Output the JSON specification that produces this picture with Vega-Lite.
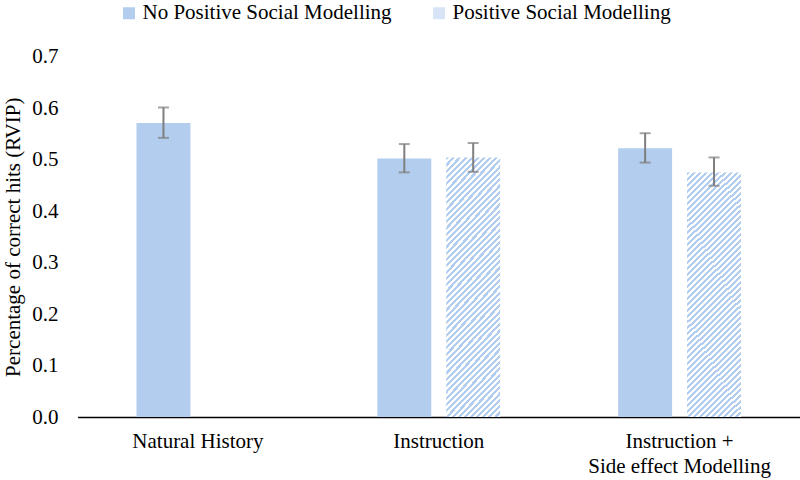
{
  "$schema": "https://vega.github.io/schema/vega-lite/v6.json",
  "width": 722.5,
  "height": 360.5,
  "autosize": {"type": "none"},
  "padding": {"left": 77.5, "top": 56.5, "right": 0, "bottom": 63},
  "config": {
    "font": "Liberation Serif",
    "view": {"stroke": null},
    "axis": {"labelColor": "#000", "titleColor": "#000", "labelFontSize": 21, "titleFontSize": 21, "titleFontWeight": "normal", "grid": false, "ticks": false, "tickSize": 0, "labelLimit": 400}
  },
  "data": {
    "values": [
      {"condition": "Natural History", "modelling": "No Positive Social Modelling", "mean": 0.571, "lo": 0.542, "hi": 0.601},
      {"condition": "Instruction", "modelling": "No Positive Social Modelling", "mean": 0.502, "lo": 0.475, "hi": 0.530},
      {"condition": "Instruction", "modelling": "Positive Social Modelling", "mean": 0.504, "lo": 0.476, "hi": 0.532},
      {"condition": "Instruction + Side effect Modelling", "modelling": "No Positive Social Modelling", "mean": 0.522, "lo": 0.494, "hi": 0.551},
      {"condition": "Instruction + Side effect Modelling", "modelling": "Positive Social Modelling", "mean": 0.475, "lo": 0.449, "hi": 0.504}
    ]
  },
  "encoding": {
    "x": {
      "field": "condition",
      "type": "nominal",
      "sort": ["Natural History", "Instruction", "Instruction + Side effect Modelling"],
      "scale": {"paddingInner": 0.49, "paddingOuter": 0.245},
      "axis": {
        "title": null,
        "labelAngle": 0,
        "domain": true,
        "domainColor": "#000",
        "domainWidth": 1.5,
        "labelPadding": 13,
        "labelLineHeight": 25,
        "labelLimit": 400,
        "labelExpr": "datum.value == 'Instruction + Side effect Modelling' ? ['Instruction +', 'Side effect Modelling'] : datum.label"
      }
    },
    "xOffset": {
      "field": "modelling",
      "type": "nominal",
      "scale": {"domain": ["No Positive Social Modelling", "Positive Social Modelling"], "paddingInner": 0.217, "paddingOuter": 0}
    },
    "y": {
      "field": "mean",
      "type": "quantitative",
      "title": "Percentage of correct hits (RVIP)",
      "scale": {"domain": [0, 0.7], "nice": false},
      "axis": {"values": [0, 0.1, 0.2, 0.3, 0.4, 0.5, 0.6, 0.7], "format": ".1f", "domain": false, "labelPadding": 19.5, "titlePadding": 8}
    }
  },
  "layer": [
    {
      "transform": [{"filter": "datum.modelling === 'No Positive Social Modelling'"}],
      "mark": {"type": "bar", "fill": "#b3cdee"}
    },
    {
      "transform": [{"filter": "datum.modelling === 'Positive Social Modelling'"}],
      "mark": {
        "type": "bar",
        "fill": {
          "gradient": "linear", "x1": 0, "y1": 0, "x2": 0.249, "y2": 1.161,
          "stops": [
            {"offset":0,"color":"#b3cdee"},{"offset":0.01,"color":"#b3cdee"},{"offset":0.01,"color":"#fff"},{"offset":0.02,"color":"#fff"},
            {"offset":0.02,"color":"#b3cdee"},{"offset":0.03,"color":"#b3cdee"},{"offset":0.03,"color":"#fff"},{"offset":0.04,"color":"#fff"},
            {"offset":0.04,"color":"#b3cdee"},{"offset":0.05,"color":"#b3cdee"},{"offset":0.05,"color":"#fff"},{"offset":0.06,"color":"#fff"},
            {"offset":0.06,"color":"#b3cdee"},{"offset":0.07,"color":"#b3cdee"},{"offset":0.07,"color":"#fff"},{"offset":0.08,"color":"#fff"},
            {"offset":0.08,"color":"#b3cdee"},{"offset":0.09,"color":"#b3cdee"},{"offset":0.09,"color":"#fff"},{"offset":0.10,"color":"#fff"},
            {"offset":0.10,"color":"#b3cdee"},{"offset":0.11,"color":"#b3cdee"},{"offset":0.11,"color":"#fff"},{"offset":0.12,"color":"#fff"},
            {"offset":0.12,"color":"#b3cdee"},{"offset":0.13,"color":"#b3cdee"},{"offset":0.13,"color":"#fff"},{"offset":0.14,"color":"#fff"},
            {"offset":0.14,"color":"#b3cdee"},{"offset":0.15,"color":"#b3cdee"},{"offset":0.15,"color":"#fff"},{"offset":0.16,"color":"#fff"},
            {"offset":0.16,"color":"#b3cdee"},{"offset":0.17,"color":"#b3cdee"},{"offset":0.17,"color":"#fff"},{"offset":0.18,"color":"#fff"},
            {"offset":0.18,"color":"#b3cdee"},{"offset":0.19,"color":"#b3cdee"},{"offset":0.19,"color":"#fff"},{"offset":0.20,"color":"#fff"},
            {"offset":0.20,"color":"#b3cdee"},{"offset":0.21,"color":"#b3cdee"},{"offset":0.21,"color":"#fff"},{"offset":0.22,"color":"#fff"},
            {"offset":0.22,"color":"#b3cdee"},{"offset":0.23,"color":"#b3cdee"},{"offset":0.23,"color":"#fff"},{"offset":0.24,"color":"#fff"},
            {"offset":0.24,"color":"#b3cdee"},{"offset":0.25,"color":"#b3cdee"},{"offset":0.25,"color":"#fff"},{"offset":0.26,"color":"#fff"},
            {"offset":0.26,"color":"#b3cdee"},{"offset":0.27,"color":"#b3cdee"},{"offset":0.27,"color":"#fff"},{"offset":0.28,"color":"#fff"},
            {"offset":0.28,"color":"#b3cdee"},{"offset":0.29,"color":"#b3cdee"},{"offset":0.29,"color":"#fff"},{"offset":0.30,"color":"#fff"},
            {"offset":0.30,"color":"#b3cdee"},{"offset":0.31,"color":"#b3cdee"},{"offset":0.31,"color":"#fff"},{"offset":0.32,"color":"#fff"},
            {"offset":0.32,"color":"#b3cdee"},{"offset":0.33,"color":"#b3cdee"},{"offset":0.33,"color":"#fff"},{"offset":0.34,"color":"#fff"},
            {"offset":0.34,"color":"#b3cdee"},{"offset":0.35,"color":"#b3cdee"},{"offset":0.35,"color":"#fff"},{"offset":0.36,"color":"#fff"},
            {"offset":0.36,"color":"#b3cdee"},{"offset":0.37,"color":"#b3cdee"},{"offset":0.37,"color":"#fff"},{"offset":0.38,"color":"#fff"},
            {"offset":0.38,"color":"#b3cdee"},{"offset":0.39,"color":"#b3cdee"},{"offset":0.39,"color":"#fff"},{"offset":0.40,"color":"#fff"},
            {"offset":0.40,"color":"#b3cdee"},{"offset":0.41,"color":"#b3cdee"},{"offset":0.41,"color":"#fff"},{"offset":0.42,"color":"#fff"},
            {"offset":0.42,"color":"#b3cdee"},{"offset":0.43,"color":"#b3cdee"},{"offset":0.43,"color":"#fff"},{"offset":0.44,"color":"#fff"},
            {"offset":0.44,"color":"#b3cdee"},{"offset":0.45,"color":"#b3cdee"},{"offset":0.45,"color":"#fff"},{"offset":0.46,"color":"#fff"},
            {"offset":0.46,"color":"#b3cdee"},{"offset":0.47,"color":"#b3cdee"},{"offset":0.47,"color":"#fff"},{"offset":0.48,"color":"#fff"},
            {"offset":0.48,"color":"#b3cdee"},{"offset":0.49,"color":"#b3cdee"},{"offset":0.49,"color":"#fff"},{"offset":0.50,"color":"#fff"},
            {"offset":0.50,"color":"#b3cdee"},{"offset":0.51,"color":"#b3cdee"},{"offset":0.51,"color":"#fff"},{"offset":0.52,"color":"#fff"},
            {"offset":0.52,"color":"#b3cdee"},{"offset":0.53,"color":"#b3cdee"},{"offset":0.53,"color":"#fff"},{"offset":0.54,"color":"#fff"},
            {"offset":0.54,"color":"#b3cdee"},{"offset":0.55,"color":"#b3cdee"},{"offset":0.55,"color":"#fff"},{"offset":0.56,"color":"#fff"},
            {"offset":0.56,"color":"#b3cdee"},{"offset":0.57,"color":"#b3cdee"},{"offset":0.57,"color":"#fff"},{"offset":0.58,"color":"#fff"},
            {"offset":0.58,"color":"#b3cdee"},{"offset":0.59,"color":"#b3cdee"},{"offset":0.59,"color":"#fff"},{"offset":0.60,"color":"#fff"},
            {"offset":0.60,"color":"#b3cdee"},{"offset":0.61,"color":"#b3cdee"},{"offset":0.61,"color":"#fff"},{"offset":0.62,"color":"#fff"},
            {"offset":0.62,"color":"#b3cdee"},{"offset":0.63,"color":"#b3cdee"},{"offset":0.63,"color":"#fff"},{"offset":0.64,"color":"#fff"},
            {"offset":0.64,"color":"#b3cdee"},{"offset":0.65,"color":"#b3cdee"},{"offset":0.65,"color":"#fff"},{"offset":0.66,"color":"#fff"},
            {"offset":0.66,"color":"#b3cdee"},{"offset":0.67,"color":"#b3cdee"},{"offset":0.67,"color":"#fff"},{"offset":0.68,"color":"#fff"},
            {"offset":0.68,"color":"#b3cdee"},{"offset":0.69,"color":"#b3cdee"},{"offset":0.69,"color":"#fff"},{"offset":0.70,"color":"#fff"},
            {"offset":0.70,"color":"#b3cdee"},{"offset":0.71,"color":"#b3cdee"},{"offset":0.71,"color":"#fff"},{"offset":0.72,"color":"#fff"},
            {"offset":0.72,"color":"#b3cdee"},{"offset":0.73,"color":"#b3cdee"},{"offset":0.73,"color":"#fff"},{"offset":0.74,"color":"#fff"},
            {"offset":0.74,"color":"#b3cdee"},{"offset":0.75,"color":"#b3cdee"},{"offset":0.75,"color":"#fff"},{"offset":0.76,"color":"#fff"},
            {"offset":0.76,"color":"#b3cdee"},{"offset":0.77,"color":"#b3cdee"},{"offset":0.77,"color":"#fff"},{"offset":0.78,"color":"#fff"},
            {"offset":0.78,"color":"#b3cdee"},{"offset":0.79,"color":"#b3cdee"},{"offset":0.79,"color":"#fff"},{"offset":0.80,"color":"#fff"},
            {"offset":0.80,"color":"#b3cdee"},{"offset":0.81,"color":"#b3cdee"},{"offset":0.81,"color":"#fff"},{"offset":0.82,"color":"#fff"},
            {"offset":0.82,"color":"#b3cdee"},{"offset":0.83,"color":"#b3cdee"},{"offset":0.83,"color":"#fff"},{"offset":0.84,"color":"#fff"},
            {"offset":0.84,"color":"#b3cdee"},{"offset":0.85,"color":"#b3cdee"},{"offset":0.85,"color":"#fff"},{"offset":0.86,"color":"#fff"},
            {"offset":0.86,"color":"#b3cdee"},{"offset":0.87,"color":"#b3cdee"},{"offset":0.87,"color":"#fff"},{"offset":0.88,"color":"#fff"},
            {"offset":0.88,"color":"#b3cdee"},{"offset":0.89,"color":"#b3cdee"},{"offset":0.89,"color":"#fff"},{"offset":0.90,"color":"#fff"},
            {"offset":0.90,"color":"#b3cdee"},{"offset":0.91,"color":"#b3cdee"},{"offset":0.91,"color":"#fff"},{"offset":0.92,"color":"#fff"},
            {"offset":0.92,"color":"#b3cdee"},{"offset":0.93,"color":"#b3cdee"},{"offset":0.93,"color":"#fff"},{"offset":0.94,"color":"#fff"},
            {"offset":0.94,"color":"#b3cdee"},{"offset":0.95,"color":"#b3cdee"},{"offset":0.95,"color":"#fff"},{"offset":0.96,"color":"#fff"},
            {"offset":0.96,"color":"#b3cdee"},{"offset":0.97,"color":"#b3cdee"},{"offset":0.97,"color":"#fff"},{"offset":0.98,"color":"#fff"},
            {"offset":0.98,"color":"#b3cdee"},{"offset":0.99,"color":"#b3cdee"},{"offset":0.99,"color":"#fff"},{"offset":1,"color":"#fff"}
          ]
        }
      }
    },
    {
      "mark": {"type": "bar", "opacity": 0},
      "encoding": {
        "color": {
          "field": "modelling",
          "type": "nominal",
          "scale": {"domain": ["No Positive Social Modelling", "Positive Social Modelling"], "range": ["#b3cdee", "#d6e4f6"]},
          "legend": {
            "title": null,
            "orient": "none",
            "legendX": 41,
            "legendY": -54,
            "direction": "horizontal",
            "symbolType": "square",
            "symbolSize": 144,
            "symbolOpacity": 1,
            "labelFontSize": 21,
            "labelColor": "#000",
            "labelOffset": 3,
            "columnPadding": 36,
            "padding": 0,
            "labelLimit": 400,
            "encode": {
              "symbols": {
                "update": {
                  "opacity": {"value": 1}
                }
              }
            }
          }
        }
      }
    },
    {
      "mark": {"type": "rule", "color": "#7f7f7f", "strokeWidth": 2},
      "encoding": {
        "y": {"field": "lo", "type": "quantitative", "title": "Percentage of correct hits (RVIP)"},
        "y2": {"field": "hi"}
      }
    },
    {
      "mark": {"type": "tick", "color": "#7f7f7f", "thickness": 2, "size": 11},
      "encoding": {"y": {"field": "lo", "type": "quantitative", "title": "Percentage of correct hits (RVIP)"}}
    },
    {
      "mark": {"type": "tick", "color": "#7f7f7f", "thickness": 2, "size": 11},
      "encoding": {"y": {"field": "hi", "type": "quantitative", "title": "Percentage of correct hits (RVIP)"}}
    }
  ]
}
